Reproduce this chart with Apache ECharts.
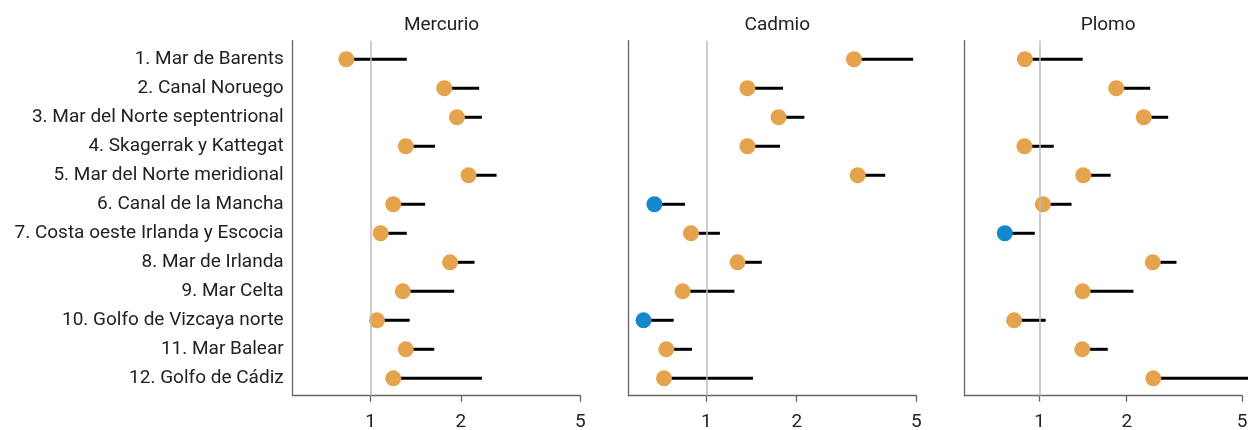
<!DOCTYPE html>
<html>
<head>
<meta charset="utf-8">
<script src="https://cdn.jsdelivr.net/npm/echarts@6/dist/echarts.min.js"></script>
<style>
html,body{margin:0;padding:0;background:#fff;}
#chart{width:1248px;height:430px;}
</style>
</head>
<body>
<div id="chart"></div>
<script>
// ---- data ----
const categories = [
  "1. Mar de Barents",
  "2. Canal Noruego",
  "3. Mar del Norte septentrional",
  "4. Skagerrak y Kattegat",
  "5. Mar del Norte meridional",
  "6. Canal de la Mancha",
  "7. Costa oeste Irlanda y Escocia",
  "8. Mar de Irlanda",
  "9. Mar Celta",
  "10. Golfo de Vizcaya norte",
  "11. Mar Balear",
  "12. Golfo de Cádiz"
];
const panelTitles = ["Mercurio", "Cadmio", "Plomo"];
const xTicks = [1, 2, 5];

const mercurio      = [0.83, 1.76, 1.94, 1.31, 2.12, 1.19, 1.08, 1.84, 1.28, 1.05, 1.31, 1.19];
const mercurioHigh  = [1.32, 2.30, 2.35, 1.64, 2.63, 1.52, 1.32, 2.22, 1.90, 1.35, 1.63, 2.35];
const mercurioFlag  = ["alto","alto","alto","alto","alto","alto","alto","alto","alto","alto","alto","alto"];

const cadmio        = [3.10, 1.37, 1.74, 1.37, 3.19, 0.672, 0.889, 1.27, 0.834, 0.618, 0.736, 0.723];
const cadmioHigh    = [4.88, 1.80, 2.12, 1.76, 3.94, 0.849, 1.11, 1.53, 1.24, 0.779, 0.896, 1.43];
const cadmioFlag    = ["alto","alto","alto","alto","alto","bajo","alto","alto","alto","bajo","alto","alto"];

const plomo         = [0.89, 1.84, 2.29, 0.887, 1.416, 1.027, 0.759, 2.46, 1.409, 0.817, 1.405, 2.47];
const plomoHigh     = [1.41, 2.41, 2.78, 1.12, 1.76, 1.29, 0.963, 2.97, 2.11, 1.05, 1.72, 6.0];
const plomoFlag     = ["alto","alto","alto","alto","alto","alto","bajo","alto","alto","alto","alto","alto"];

// ---- styling ----
const ORANGE = "#E6A34E";
const BLUE = "#1488CC";
const FONT = "Roboto";
const FS = 19;

const panels = [
  {v: mercurio, hi: mercurioHigh, flag: mercurioFlag, left: 292.7, width: 287.6},
  {v: cadmio, hi: cadmioHigh, flag: cadmioFlag, left: 628.3, width: 288},
  {v: plomo, hi: plomoHigh, flag: plomoFlag, left: 964.3, width: 277.7}
];
const TOP = 40.7, HEIGHT = 355;

const grid = [], xAxis = [], yAxis = [], series = [], title = [];
panels.forEach((p, k) => {
  grid.push({left: p.left, width: p.width, top: TOP, height: HEIGHT,
             containLabel: false, outerBoundsMode: "none"});
  title.push({
    text: panelTitles[k], left: p.left + p.width / 2, top: 11, textAlign: "center",
    textStyle: {fontFamily: FONT, fontSize: FS, fontWeight: "normal", color: "#222"}
  });
  xAxis.push({
    type: "log", logBase: 10, gridIndex: k, min: 0.55, max: 5,
    axisLine: {show: true, lineStyle: {color: "#666", width: 1.3}},
    axisTick: {show: true, customValues: xTicks, length: 6, lineStyle: {color: "#666", width: 1.3}},
    axisLabel: {customValues: xTicks, fontFamily: FONT, fontSize: FS, color: "#222", margin: 17,
                formatter: v => String(v)},
    splitLine: {show: false},
    minorTick: {show: false}
  });
  yAxis.push({
    type: "value", gridIndex: k, inverse: true, min: 0.36, max: 12.6,
    axisLine: {show: true, lineStyle: {color: "#666", width: 1.3}},
    axisTick: {show: false},
    splitLine: {show: false},
    axisLabel: {
      show: k === 0, customValues: categories.map((c, i) => i + 1),
      fontFamily: FONT, fontSize: FS, color: "#222", margin: 9,
      formatter: v => categories[Math.round(v) - 1] || ""
    }
  });
  series.push({
    type: "custom", xAxisIndex: k, yAxisIndex: k, clip: false, z: 2, silent: true,
    data: p.v.map((v, i) => [v, p.hi[i], i + 1]),
    encode: {x: [0, 1], y: 2},
    renderItem: (params, api) => {
      const a = api.coord([api.value(0), api.value(2)]);
      const b = api.coord([api.value(1), api.value(2)]);
      return {type: "line", shape: {x1: a[0], y1: a[1], x2: b[0], y2: b[1]},
              style: {stroke: "#000", lineWidth: 3}};
    },
    markLine: {
      silent: true, symbol: "none", label: {show: false}, animation: false,
      lineStyle: {color: "#bbb", width: 1.5, type: "solid"},
      data: [{xAxis: 1}]
    }
  });
  series.push({
    type: "scatter", xAxisIndex: k, yAxisIndex: k, symbolSize: 16, z: 3, silent: true,
    data: p.v.map((v, i) => ({value: [v, i + 1],
      itemStyle: {color: p.flag[i] === "bajo" ? BLUE : ORANGE, opacity: 1}}))
  });
});

const chart = echarts.init(document.getElementById("chart"));
chart.setOption({animation: false, title, grid, xAxis, yAxis, series});
</script>
</body>
</html>
